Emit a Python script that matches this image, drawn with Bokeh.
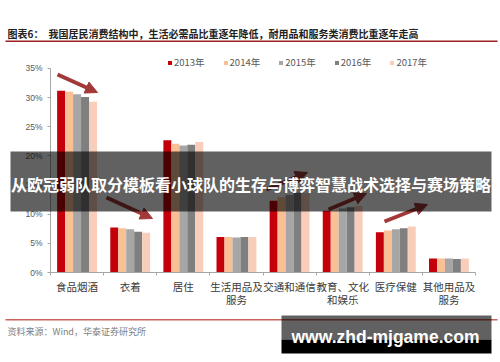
from bokeh.plotting import figure
from bokeh.models import (ColumnDataSource, Range1d, LinearAxis, FixedTicker, PrintfTickFormatter,
                          Label, BoxAnnotation, Arrow, NormalHead, Grid)
from bokeh.transform import dodge
from bokeh.embed import file_html
from bokeh.resources import INLINE

# ---------------- data ----------------
categories = ["食品烟酒", "衣着", "居住", "生活用品及\n服务", "交通和通信",
              "教育、文化\n和娱乐", "医疗保健", "其他用品及\n服务"]
years = ["2013年", "2014年", "2015年", "2016年", "2017年"]
y2013 = [31.2, 7.7, 22.7, 6.1, 12.3, 10.6, 6.9, 2.4]
y2014 = [31.0, 7.6, 22.1, 6.1, 12.9, 10.6, 7.2, 2.4]
y2015 = [30.6, 7.4, 21.8, 6.0, 13.3, 11.0, 7.4, 2.4]
y2016 = [30.1, 7.0, 21.9, 6.1, 13.7, 11.2, 7.6, 2.3]
y2017 = [29.3, 6.8, 22.4, 6.1, 13.6, 11.4, 7.9, 2.4]
y_ticks = [0, 5, 10, 15, 20, 25, 30, 35]

title_prefix = "图表6："
title_text = "我国居民消费结构中，生活必需品比重逐年降低，耐用品和服务类消费比重逐年走高"
source_text = "资料来源：Wind，华泰证券研究所"
banner_text = "从欧冠弱队取分模板看小球队的生存与博弈智慧战术选择与赛场策略"
watermark_text = "www.zhd-mjgame.com"

colors = ["#C4000B", "#FAC095", "#A6A6A6", "#7F7F7F", "#F8CDBA"]
cols = ["y2013", "y2014", "y2015", "y2016", "y2017"]
offsets = [-0.30, -0.15, 0.0, 0.15, 0.30]

n = len(categories)
centers = [i + 0.5 for i in range(n)]          # category slots on a linear scale
edges = list(range(n + 1))
source = ColumnDataSource(dict(cat=categories, slot=centers, y2013=y2013, y2014=y2014,
                               y2015=y2015, y2016=y2016, y2017=y2017))

# ---------------- layout (canvas = whole window, frame = whole canvas) ----------------
W, H = 500, 362
AXIS_X_PX, CAT_PX = 50.0, 53.125     # page x of the y axis, width of one category
AXIS_Y_PX, PCT_PX = 272.0, 5.829     # page y of 0 %, pixels per percent
x_range = Range1d(-AXIS_X_PX / CAT_PX, (W - AXIS_X_PX) / CAT_PX)
y_range = Range1d(-(H - AXIS_Y_PX) / PCT_PX, AXIS_Y_PX / PCT_PX)

p = figure(width=W, height=H, x_range=x_range, y_range=y_range,
           output_backend="svg", toolbar_location=None,
           x_axis_location=None, y_axis_location=None,
           min_border=0, min_border_left=0, min_border_right=0, min_border_top=0, min_border_bottom=0)
p.outline_line_color = None
p.background_fill_color = "white"
p.border_fill_color = "white"
for r in list(p.center):
    if isinstance(r, Grid):
        r.visible = False

for yr, col, color, off in zip(years, cols, colors, offsets):
    p.vbar(x=dodge("slot", off), top=col, width=0.15, source=source,
           fill_color=color, line_color=None, legend_label=yr)

# axes
AX = "#A6A6A6"
xaxis = LinearAxis(fixed_location=0, bounds=(0, n),
                   ticker=FixedTicker(ticks=centers, minor_ticks=edges),
                   major_label_overrides={c: lab for c, lab in zip(centers, categories)},
                   axis_line_color=AX, major_tick_line_color=None, major_tick_out=3, major_tick_in=0,
                   minor_tick_line_color=AX, minor_tick_out=3, minor_tick_in=0,
                   major_label_standoff=3, major_label_text_line_height=0.92,
                   major_label_text_font="Noto Sans CJK SC", major_label_text_font_size="10.5px",
                   major_label_text_color="#3A3A3A")
p.add_layout(xaxis, "below")
yaxis = LinearAxis(fixed_location=0, bounds=(0, 35),
                   ticker=FixedTicker(ticks=y_ticks), formatter=PrintfTickFormatter(format="%d%%"),
                   axis_line_color=AX, major_tick_line_color=AX, major_tick_out=3, major_tick_in=0,
                   minor_tick_line_color=None, major_label_standoff=5,
                   major_label_text_font="Liberation Sans", major_label_text_font_size="8.5px",
                   major_label_text_color="#595959")
p.add_layout(yaxis, "left")

# screen helpers: page pixels -> screen units (from the canvas bottom-left)
def sx(px):
    return px
def sy(py):
    return H - py

# legend
lg = p.legend[0]
lg.orientation = "horizontal"
lg.location = (sx(167), sy(69))
lg.glyph_width = 5
lg.glyph_height = 5
lg.label_standoff = 2
lg.spacing = 18
lg.padding = 0
lg.margin = 0
lg.label_height = 12
lg.border_line_color = None
lg.background_fill_alpha = 0
lg.label_text_font = "Noto Sans CJK SC"
lg.label_text_font_size = "9.5px"
lg.label_text_color = "#595959"

def box(l, r, t, b, color, alpha=1.0):
    return BoxAnnotation(left=sx(l), right=sx(r), top=sy(t), bottom=sy(b),
                         left_units="screen", right_units="screen",
                         top_units="screen", bottom_units="screen",
                         fill_color=color, fill_alpha=alpha, line_color=None)

def label(px, py, text, size, color, font="Noto Sans CJK SC", bold=False, align="left"):
    return Label(x=sx(px), y=sy(py), x_units="screen", y_units="screen", text=text,
                 text_font=font, text_font_size=size, text_color=color,
                 text_font_style="bold" if bold else "normal",
                 text_align=align, text_baseline="middle")

# arrows
ARC = "#A33838"
arrows = [((57, 74), (97, 92)), ((106, 197), (152, 218)), ((266, 189), (307, 172)),
          ((328, 209), (366, 193)), ((384, 221), (427, 204))]
for (x0, y0), (x1, y1) in arrows:
    p.add_layout(Arrow(x_start=sx(x0), y_start=sy(y0), x_end=sx(x1), y_end=sy(y1),
                       start_units="screen", end_units="screen", line_width=4, line_color=ARC,
                       end=NormalHead(size=12, fill_color=ARC, line_color=ARC)))

# title and rules
p.add_layout(label(7, 33, title_prefix, "10px", "#222222", bold=True))
p.add_layout(label(48, 33, title_text, "10px", "#222222", bold=True))
p.add_layout(box(5, 497, 40, 41.5, "#9E1F1F"))
p.add_layout(box(5, 497, 318.5, 320, "#C8645A"))
p.add_layout(label(7, 331, source_text, "9px", "#808080"))

# banner overlay
p.add_layout(box(10, 491, 151, 211, "black", 0.62))
p.add_layout(label(250.5, 183, banner_text, "16px", "white", bold=True, align="center"))

# watermark
p.add_layout(box(281, 491, 315, 339, "black", 0.62))
p.add_layout(box(281, 491, 339, 353, "black", 1.0))
p.add_layout(label(385, 336, watermark_text, "17.5px", "white", font="Liberation Sans", bold=True, align="center"))

open("out.html", "w").write(file_html(p, INLINE))
